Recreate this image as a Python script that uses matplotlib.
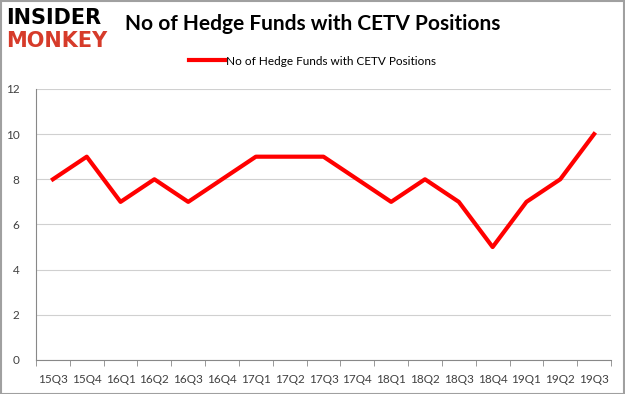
import matplotlib.pyplot as plt
import numpy as np

# Données
trimestres = ['15Q3', '15Q4', '16Q1', '16Q2', '16Q3', '16Q4', '17Q1', '17Q2', '17Q3',
              '17Q4', '18Q1', '18Q2', '18Q3', '18Q4', '19Q1', '19Q2', '19Q3']
nb_fonds = [8, 9, 7, 8, 7, 8, 9, 9, 9, 8, 7, 8, 7, 5, 7, 8, 10]
graduations_y = [0, 2, 4, 6, 8, 10, 12]

plt.rcParams['font.family'] = ['Lato', 'DejaVu Sans']

fig = plt.figure(figsize=(6.25, 3.94), dpi=100)
ax = fig.add_axes([0.0576, 0.0863, 0.92, 0.688])

x = np.arange(len(trimestres))
ax.plot(x, nb_fonds, color='#ff0000', linewidth=3, label='No of Hedge Funds with CETV Positions')

ax.set_xlim(-0.5, len(trimestres) - 0.5)
ax.set_ylim(0, 12)
ax.set_yticks(graduations_y)
ax.set_xticks(x)
ax.set_xticklabels(trimestres, fontsize=8.5, color='#404040')
ax.tick_params(axis='x', length=0, pad=10)
ax.set_xticks(np.arange(-0.5, len(trimestres)), minor=True)
ax.tick_params(axis='x', which='minor', length=4, color='#888888')
ax.tick_params(axis='y', length=0, labelsize=8.5, labelcolor='#404040', pad=12)
ax.grid(axis='y', color='#d0d0d0', linewidth=0.8)
ax.set_axisbelow(True)
for cote in ['top', 'right']:
    ax.spines[cote].set_visible(False)
ax.spines['left'].set_color('#888888')
ax.spines['bottom'].set_color('#888888')

fig.legend(loc='center', bbox_to_anchor=(0.5, 0.845), frameon=False, fontsize=8.5,
           handlelength=3, handletextpad=0.1)

# Titre et logo
fig.text(0.5, 0.94, 'No of Hedge Funds with CETV Positions', ha='center', va='center',
         fontsize=15, fontweight='bold', color='black')
fig.text(0.01, 0.955, 'INSIDER', ha='left', va='center', fontsize=15,
         fontweight='heavy', color='black', family='DejaVu Sans')
fig.text(0.01, 0.897, 'MONKEY', ha='left', va='center', fontsize=15,
         fontweight='heavy', color='#d63b2a', family='DejaVu Sans')

# Cadre gris autour de l'image
fig.patches.append(plt.Rectangle((0.001, 0.001), 0.998, 0.997, transform=fig.transFigure,
                                 fill=False, edgecolor='#a0a0a0', linewidth=1.5))

fig.savefig('out.png', dpi=100)
